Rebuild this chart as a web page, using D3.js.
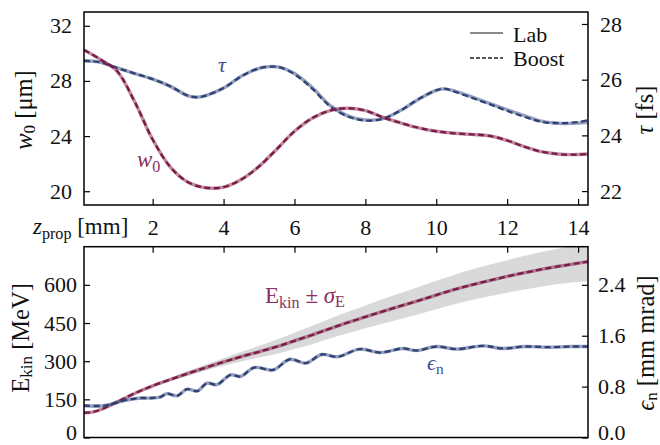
<!DOCTYPE html>
<html><head><meta charset="utf-8">
<script src="https://cdn.jsdelivr.net/npm/d3@7"></script>
<style>
body{margin:0;background:#fff}
svg{display:block}
text{font-family:"Liberation Serif","Times New Roman",serif}
</style>
</head><body>
<svg id="c" width="660" height="445"></svg>
<script>
// ---------- data ----------
// top panel: laser waist w0 [um] (left axis) and pulse duration tau [fs] (right axis)
const zW = [0.063,0.5,1.0,1.5,2.0,2.5,3.0,3.5,4.0,4.5,5.0,5.5,6.0,6.5,7.0,7.5,8.0,8.5,9.0,9.5,10.0,10.5,11.0,11.5,12.0,12.5,13.0,13.5,14.0,14.28];
const w0Lab   = [30.25,29.6,28.7,26.45,23.75,21.75,20.65,20.25,20.3,20.85,21.8,23.05,24.35,25.3,25.85,26.02,25.85,25.35,24.95,24.6,24.35,24.2,24.12,24.02,23.68,23.22,22.85,22.68,22.66,22.7];
const w0Boost = [30.25,29.6,28.7,26.45,23.75,21.75,20.65,20.25,20.3,20.85,21.8,23.05,24.35,25.3,25.85,26.02,25.85,25.35,24.95,24.6,24.35,24.2,24.12,24.02,23.68,23.22,22.85,22.68,22.66,22.7];
const zT = [0.063,0.5,1.0,1.5,2.0,2.5,3.0,3.25,3.5,4.0,4.5,5.0,5.3,5.6,6.0,6.5,7.0,7.5,8.0,8.5,9.0,9.5,10.0,10.25,10.5,11.0,11.5,12.0,12.5,13.0,13.5,14.0,14.28];
const tauLab   = [26.68,26.63,26.42,26.22,26.02,25.76,25.42,25.37,25.43,25.7,26.12,26.41,26.47,26.44,26.22,25.72,25.08,24.7,24.55,24.6,24.9,25.3,25.62,25.67,25.6,25.38,25.15,24.92,24.7,24.5,24.43,24.44,24.47];
const tauBoost = [26.68,26.63,26.42,26.22,26.02,25.76,25.42,25.37,25.43,25.7,26.12,26.41,26.47,26.44,26.2,25.68,25.05,24.68,24.53,24.6,24.9,25.3,25.62,25.67,25.58,25.35,25.12,24.88,24.66,24.48,24.44,24.48,24.55];
// bottom panel: kinetic energy [MeV] with spread, normalized emittance [mm mrad]
const zE = [0.063,0.3,0.6,1.0,1.5,2.0,2.5,3.0,3.5,4.0,4.5,5.0,5.5,6.0,6.5,7.0,7.5,8.0,8.5,9.0,9.5,10.0,10.5,11.0,11.5,12.0,12.5,13.0,13.5,14.0,14.28];
const eLab   = [97,100,113,140,174,203,228,252,275,297,318,337,357,380,403,428,452,474,496,517,538,560,581,600,617,633,648,662,674,685,691];
const eBoost = [97,100,113,140,174,203,228,252,275,297,318,337,357,380,403,428,452,474,496,517,538,560,581,600,617,633,648,662,674,685,691];
const sigmaE = [0,0,1,2,3,5,7,9,12,15,19,23,28,32,36,39,42,45,48,51,54,56,58,60,62,64,66,68,70,74,77];
const zEps = [0.063,0.63,0.99,1.27,1.67,1.95,2.23,2.4,2.69,2.97,3.26,3.53,3.81,4.2,4.48,4.86,5.4,5.87,6.32,6.77,7.22,7.84,8.43,9.06,9.44,10.0,10.57,11.32,11.88,12.5,13.2,13.76,14.28];
const epsLab   = [0.5,0.5,0.55,0.59,0.62,0.62,0.64,0.69,0.655,0.76,0.73,0.855,0.83,0.985,0.96,1.1,1.063,1.23,1.17,1.305,1.27,1.39,1.335,1.4,1.366,1.43,1.39,1.44,1.4,1.43,1.42,1.43,1.43];
const epsBoost = [0.5,0.5,0.55,0.59,0.62,0.62,0.64,0.69,0.655,0.76,0.73,0.855,0.83,0.985,0.96,1.1,1.063,1.23,1.17,1.305,1.27,1.39,1.335,1.4,1.366,1.43,1.39,1.44,1.4,1.43,1.42,1.43,1.43];
// ticks
const xTicks = [2,4,6,8,10,12,14];
const wTicks = [20,24,28,32];
const tauTicks = [22,24,26,28];
const eTicks = [0,150,300,450,600];
const epsTicks = [0.0,0.8,1.6,2.4];

// ---------- layout ----------
const RED = "#7d1a45", BLUE = "#2f4277";
const RED_T = "#8a3060", BLUE_T = "#3d5090";
const FS = 22;
const X0 = 84, X1 = 588;
const T0 = 12, T1 = 205, B0 = 246.7, B1 = 437.5;

const svg = d3.select("#c");
const x = d3.scaleLinear().domain([0.063,14.28]).range([X0,X1]);
const yW = d3.scaleLinear().domain([19,33]).range([T1,T0]);
const yT = d3.scaleLinear().domain([21.5,28.43]).range([T1,T0]);
const yE = d3.scaleLinear().domain([0,750]).range([B1,B0]);
const yEps = d3.scaleLinear().domain([0,3]).range([B1,B0]);

const defs = svg.append("defs");
defs.append("clipPath").attr("id","clipT").append("rect").attr("x",X0).attr("y",T0).attr("width",X1-X0).attr("height",T1-T0);
defs.append("clipPath").attr("id","clipB").append("rect").attr("x",X0).attr("y",B0).attr("width",X1-X0).attr("height",B1-B0);

function zip(zs, vs){ return zs.map((z,i)=>[z,vs[i]]); }
function lineGen(ys){ return d3.line().x(d=>x(d[0])).y(d=>ys(d[1])).curve(d3.curveCatmullRom.alpha(0.5)); }

function drawPair(g, zs, lab, boost, ys, col){
  g.append("path").attr("d", lineGen(ys)(zip(zs,lab)))
    .attr("fill","none").attr("stroke",col).attr("stroke-opacity",0.5).attr("stroke-width",3.4);
  g.append("path").attr("d", lineGen(ys)(zip(zs,boost)))
    .attr("fill","none").attr("stroke",col).attr("stroke-width",2.3).attr("stroke-dasharray","6,3.5");
}

// ---------- top panel ----------
const gT = svg.append("g").attr("clip-path","url(#clipT)");
drawPair(gT, zT, tauLab, tauBoost, yT, BLUE);
drawPair(gT, zW, w0Lab, w0Boost, yW, RED);

// ---------- bottom panel ----------
const gB = svg.append("g").attr("clip-path","url(#clipB)");
const band = d3.area().x((d,i)=>x(zE[i])).y0((d,i)=>yE(eLab[i]-sigmaE[i])).y1((d,i)=>yE(eLab[i]+sigmaE[i])).curve(d3.curveCatmullRom.alpha(0.5));
gB.append("path").attr("d", band(zE)).attr("fill","#d9d9d9");
drawPair(gB, zE, eLab, eBoost, yE, RED);
drawPair(gB, zEps, epsLab, epsBoost, yEps, BLUE);

// ---------- axes ----------
function style(g){
  g.select(".domain").remove();
  g.selectAll("line").attr("stroke","#000").attr("stroke-width",1.2);
  g.selectAll("text").attr("font-family","Liberation Serif, serif").attr("font-size",FS).attr("fill","#111");
  // keep the lowest labels inside the picture
  g.selectAll(".tick").filter(d=>d===0).select("text").attr("dy","0.08em");
}
svg.append("g").attr("transform",`translate(0,${T1})`)
  .call(d3.axisBottom(x).tickValues(xTicks).tickSize(-6).tickSizeOuter(0).tickFormat("")).call(style);
svg.append("g").attr("transform",`translate(0,${B0})`)
  .call(d3.axisTop(x).tickValues(xTicks).tickSize(-6).tickSizeOuter(0).tickPadding(12).tickFormat(d3.format("d"))).call(style);
svg.append("g").attr("transform",`translate(${X0},0)`)
  .call(d3.axisLeft(yW).tickValues(wTicks).tickSize(-6).tickSizeOuter(0).tickPadding(12).tickFormat(d3.format("d"))).call(style);
svg.append("g").attr("transform",`translate(${X1},0)`)
  .call(d3.axisRight(yT).tickValues(tauTicks).tickSize(-6).tickSizeOuter(0).tickPadding(12).tickFormat(d3.format("d"))).call(style);
svg.append("g").attr("transform",`translate(${X0},0)`)
  .call(d3.axisLeft(yE).tickValues(eTicks).tickSize(-6).tickSizeOuter(0).tickPadding(7).tickFormat(d3.format("d"))).call(style);
svg.append("g").attr("transform",`translate(${X1},0)`)
  .call(d3.axisRight(yEps).tickValues(epsTicks).tickSize(-6).tickSizeOuter(0).tickPadding(10).tickFormat(d3.format(".1f"))).call(style);

// frames
[[T0,T1],[B0,B1]].forEach(([a,b])=>{
  svg.append("rect").attr("x",X0).attr("y",a).attr("width",X1-X0).attr("height",b-a)
    .attr("fill","none").attr("stroke","#000").attr("stroke-width",1.5);
});

// ---------- text helpers ----------
function rich(parent, parts, attrs){
  const t = parent.append("text");
  Object.entries(attrs).forEach(([k,v])=>t.attr(k,v));
  parts.forEach(p=>{
    const s = t.append("tspan").text(p.t);
    if(p.i) s.attr("font-style","italic");
    if(p.sub){ s.attr("font-size","0.7em").attr("dy","0.28em"); }
    if(p.back){ s.attr("dy","-0.2em"); }
  });
  return t;
}
function ylabel(cx, cy, parts){
  const g = svg.append("g").attr("transform",`translate(${cx},${cy}) rotate(-90)`);
  rich(g, parts, {"text-anchor":"middle","font-size":24.5,"fill":"#111","dominant-baseline":"middle"});
}
ylabel(26,110,[{t:"w",i:1},{t:"0",sub:1},{t:" [μm]",back:1}]);
ylabel(647,110,[{t:"τ",i:1},{t:" [fs]"}]);
ylabel(23,338,[{t:"E"},{t:"kin",sub:1},{t:" [MeV]",back:1}]);
ylabel(648,343,[{t:"ϵ",i:1},{t:"n",sub:1},{t:" [mm mrad]",back:1}]);

rich(svg,[{t:"z",i:1},{t:"prop",sub:1},{t:" [mm]",back:1}],{x:33,y:234,"font-size":23,"fill":"#111"});

// annotations
rich(svg,[{t:"τ",i:1}],{x:218,y:72,"font-size":22,"fill":BLUE_T});
rich(svg,[{t:"w",i:1},{t:"0",sub:1}],{x:137,y:167,"font-size":23,"fill":RED_T});
rich(svg,[{t:"E"},{t:"kin",sub:1},{t:" ± ",back:1},{t:"σ",i:1},{t:"E",sub:1}],{x:265,y:303,"font-size":23,"fill":RED_T});
rich(svg,[{t:"ϵ",i:1},{t:"n",sub:1}],{x:427,y:370,"font-size":22,"fill":BLUE_T});

// legend
const lg = svg.append("g");
lg.append("line").attr("x1",470).attr("x2",503).attr("y1",33).attr("y2",33).attr("stroke","#8a8a8a").attr("stroke-width",2);
lg.append("line").attr("x1",470).attr("x2",503).attr("y1",58).attr("y2",58).attr("stroke","#222").attr("stroke-width",1.5).attr("stroke-dasharray","4,2");
lg.append("text").attr("x",513).attr("y",41.5).attr("font-size",22).attr("fill","#111").text("Lab");
lg.append("text").attr("x",513).attr("y",66).attr("font-size",22).attr("fill","#111").text("Boost");
</script>
</body></html>
